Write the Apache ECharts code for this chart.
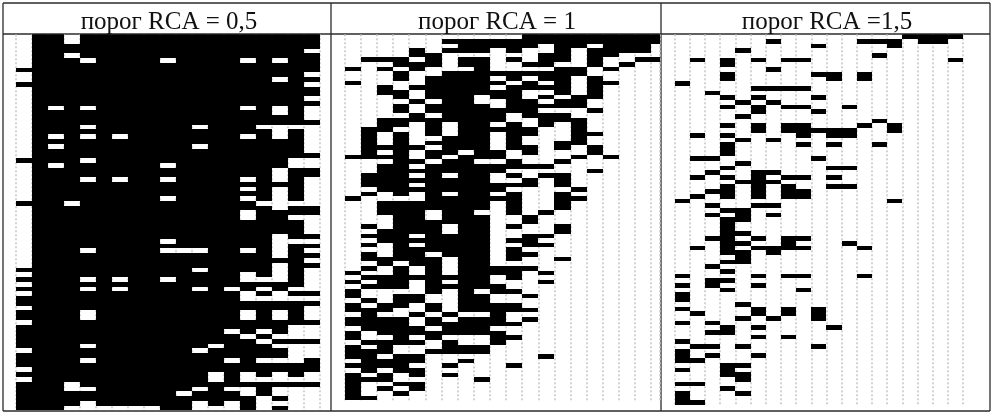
<!DOCTYPE html>
<html>
<head>
<meta charset="utf-8">
<script src="https://cdn.jsdelivr.net/npm/echarts@6/dist/echarts.min.js"></script>
<style>
  html, body { margin: 0; padding: 0; background: #fff; }
  #chart { width: 993px; height: 414px; }
</style>
</head>
<body>
<div id="chart"></div>
<script>
const panelTitles = ['порог RCA = 0,5', 'порог RCA = 1', 'порог RCA =1,5'];
const rowCount = 79;

// threshold 0.5: mostly filled, so each row lists its EMPTY columns (0-18)
const emptyColsA = [
  [0,3],[0,3],[0],[0,18],[0,3],[0,4,9,14,16],[0],[],[0,18],[0,16],
  [18],[0],[0],[0,18],[0],[0,2,4,14,16,18],[0,16,18],[0,18],[0],[0,4,11,15,16,17,18],
  [0,16,18],[0,2,4,6,14,16,18],[0,18],[0,2,11,18],[0,18],[0],[4,17,18],[0,2,9,17,18],[0,16],[0,16],
  [0,4,6,9,14,16,18],[0,18],[0,14,16,18],[0,16,18],[0,9,14,16,18],[3,15,16,17,18],[0,16],[0,14],[0,14,17,18],[0,18],
  [0,18],[0,18],[0,16],[0,9,16,17,18],[0,16],[0,4,9,10,11,14,16,18],[0,16],[0,18],[0,16],[11,16,18],
  [0,14,16,18],[4,6,9,14,15,16,18],[0,18],[4,6,11,13,15,17,18],[0,14,16],[14,15,16,17,18],[],[0,18],[4,14,16,18],[4,14,16,18],
  [0],[17,18],[13,15,17,18],[14,16,17,18],[15],[4,12,16,17,18],[0,11,17,18],[17,18],[4,13,15,16,17],[],
  [0],[12,14,16,18],[0,12,14,15,16,17,18],[3],[3,4,11,13,14,16,17,18],[10,14,16,17,18],[15,17,18],[4,11,13,15,16,17,18],[3,4,5,6,7,8,11,12,13,15,17,18]
];

// threshold 1: each row lists its filled columns
const filledColsB = [
  [11,12,13,14,15,16,17,18,19],
  [6,7,8,9,10,11,12,13,14,15,16,17,18,19],
  [7,8,9,10,11,13,14,16,17,18],
  [4,6,7,8,10,13,15,16,17,18],
  [4,5,12,13,15,16],
  [1,2,3,5,7,8,10,12,13,15,18,19],
  [3,4,5,7,8,11,12,15,17],
  [0,2,4,8,13,14,16],
  [3,6,7,8,9,10,11,12,13,14],
  [3,5,6,7,8,10,12,13,15],
  [0,5,6,7,8,9,11,13,15,16],
  [2,4,5,6,7,8,10,11,12,13,15],
  [2,3,5,6,7,8,9,10,13,15],
  [3,5,6,7,9,10,12,14,15],
  [4,6,7,10,11,13,14],
  [3,5,6,7,8,10,11,12,13,14],
  [3,5,6,7,8,9,10,11,15],
  [4,6,7,8,9,11,12,13],
  [2,3,4,5,6,7,8,9,12,13,14],
  [2,3,5,7,8,10,12,14],
  [1,2,5,7,8,9,10,11,14],
  [1,3,5,7,8,10,11,14,15],
  [1,3,6,7,8,10,14],
  [1,3,5,6,7,8,10,13,14],
  [1,2,3,4,6,7,8,10,11,13,15],
  [1,3,5,6,8,9,11,15],
  [0,1,2,3,5,7,8,9,14,16],
  [3,4,6,7,10,13],
  [2,3,5,6,7,8,9,10,11,12],
  [2,3,4,5,6,7,8,9,15],
  [1,2,3,5,7,8,10,12,13],
  [1,2,3,4,5,6,7,8,11,13],
  [1,2,3,5,6,7,8,9,10,11,13],
  [2,3,4,5,6,7,8,9,14],
  [1,3,5,7,8,10,13],
  [0,5,6,7,8,9,10,13,14],
  [2,3,4,5,6,7,8,10,13],
  [2,3,4,5,6,7,8,10,13],
  [2,3,4,6,7,10,12],
  [3,4,6,7,8,11],
  [3,4,5,6,7,8,11],
  [1,3,4,5,7,8,10,13],
  [2,3,4,5,7,8,13],
  [1,2,3,5,6,7,8,11,12],
  [2,3,4,5,6,7,8,10,11],
  [1,3,5,6,7,8,11,12],
  [3,4,5,6,7,8,10],
  [1,3,4,6,7,8,10,11],
  [1,2,3,4,5,7,8,10,13],
  [2,4,5,7,8],
  [1,3,5,7,8,9,10,11],
  [0,3,5,7,8,9,10,12],
  [1,2,3,4,5,6,7,8,10],
  [0,2,3,5,7,8,12],
  [1,2,3,5,6,7,8,9],
  [0,5,7,9,10],
  [0,3,4,7,8,11],
  [1,3,4,7,8],
  [0,2,3,5,7,8,9,10],
  [0,1,2,5,7,8,9,10,11],
  [1,4,6,9],
  [0,1,2,3,5,7,8,9,11],
  [0,1,2,3,5,6,7,8,9,10],
  [1,2,3,4,6,7,8],
  [0,2,3,4,5,6,7,8,9],
  [0,3,5,9,10],
  [1,2,3,4,6,9],
  [0,2,6,7,8],
  [0,1,2,5,6,7,8],
  [0,1,3,4,12],
  [1,2,3,4,7],
  [0,1,2,3,6,10],
  [1,3,4],
  [0,2,4,6],
  [0,1,2,8],
  [0,3,4],
  [0,2,4],
  [0,3],
  [0,1]
];

// threshold 1.5: each row lists its filled columns
const filledColsC = [
  [15,16,17,18],[6,12,13,14,16,17],[9,14],[4],[13],[1,3,5,7,8,18],[3],[6],[3,9,10,12],[3,10,12],
  [0],[5,6,7,8],[2],[3,5,9],[4,6],[3,5,7,8,11],[5,9],[4],[13],[3,5,7,8,12,14],
  [5,7,8,9,10,11,14],[1,3,8,10,11],[4,6],[3,8,10,13],[3],[3],[1,2,9],[4],[3,10,11],[2,5,6],
  [1,3,5,7,8,10],[4,5,6],[3,5,7,10,11],[2,3,5,7,8],[1,3,5,7,8],[0,14],[2,5,6],[3,4],[2,4,6],[3,4],
  [3],[3],[3,4],[2,3,5,7,8],[3,4,7,11],[1,3,5,6,7,8,12],[3,4,6],[4],[3,4],[2],
  [3],[0,5,7,8,12],[2,3],[0,2,5],[3,8],[0],[0],[4],[0,5,7,9],[1,5,7,9],
  [4,6,9],[0,2],[3,5,10],[2,3],[5,7],[0],[1,2,4,9],[0],[0,2,5],[0,1],
  [3,4],[0,3],[3,4],[4],[0,1],[3],[0,4],[0],[0,1]
];

const colCountA = 19;

// panel A stores gaps, turn it into the same filled-cell form as B and C
const filledColsA = emptyColsA.map(gaps => {
  const cols = [];
  for (let c = 0; c < colCountA; c++) {
    if (!gaps.includes(c)) cols.push(c);
  }
  return cols;
});

function toCells(rows) {
  const cells = [];
  rows.forEach((cols, r) => cols.forEach(c => cells.push([c, r])));
  return cells;
}

// edges are rounded to whole pixels so neighbouring cells leave no seam
function renderCell(params, api) {
  const p0 = api.coord([api.value(0), api.value(1)]).map(Math.round);
  const p1 = api.coord([api.value(0) + 1, api.value(1) + 1]).map(Math.round);
  return {
    type: 'rect',
    shape: { x: p0[0], y: p0[1], width: p1[0] - p0[0], height: p1[1] - p0[1] },
    style: { fill: '#000' }
  };
}

const panels = [
  { left: 15.7, top: 34.3, width: 304, height: 376, maxX: 19, rows: filledColsA, titleX: 164 },
  { left: 344.7, top: 34.3, width: 314.6, height: 366, maxX: 19.5, rows: filledColsB, titleX: 492 },
  { left: 674.7, top: 34.3, width: 288.4, height: 370.8, maxX: 19, rows: filledColsC, titleX: 822 }
];

const lineColor = '#2b2b2b';
const frameLines = [
  [3, 3, 990, 3], [3, 34, 990, 34], [3, 411, 990, 411],
  [3, 3, 3, 411], [331, 3, 331, 411], [661, 3, 661, 411], [990, 3, 990, 411]
];

const chart = echarts.init(document.getElementById('chart'));
chart.setOption({
  animation: false,
  backgroundColor: '#fff',
  title: panels.map((p, i) => ({
    text: panelTitles[i],
    left: p.titleX,
    top: 5,
    textAlign: 'center',
    textStyle: { fontFamily: '"Liberation Serif", serif', fontSize: 25, fontWeight: 'normal', color: '#111' }
  })),
  grid: panels.map(p => ({ left: p.left, top: p.top, width: p.width, height: p.height, show: false })),
  xAxis: panels.map((p, i) => ({
    type: 'value', gridIndex: i, min: 0, max: p.maxX, interval: 1,
    axisLine: { show: false }, axisTick: { show: false }, axisLabel: { show: false },
    splitLine: { show: true, lineStyle: { color: '#c4c4c4', width: 1.5, type: [2, 2] } }
  })),
  yAxis: panels.map((p, i) => ({
    type: 'value', gridIndex: i, min: 0, max: rowCount, inverse: true,
    axisLine: { show: false }, axisTick: { show: false }, axisLabel: { show: false },
    splitLine: { show: false }
  })),
  series: panels.map((p, i) => ({
    type: 'custom',
    xAxisIndex: i,
    yAxisIndex: i,
    clip: true,
    silent: true,
    renderItem: renderCell,
    data: toCells(p.rows)
  })),
  graphic: frameLines.map(l => ({
    type: 'line',
    shape: { x1: l[0], y1: l[1], x2: l[2], y2: l[3] },
    style: { stroke: lineColor, lineWidth: 1.3 },
    silent: true
  }))
});
</script>
</body>
</html>
